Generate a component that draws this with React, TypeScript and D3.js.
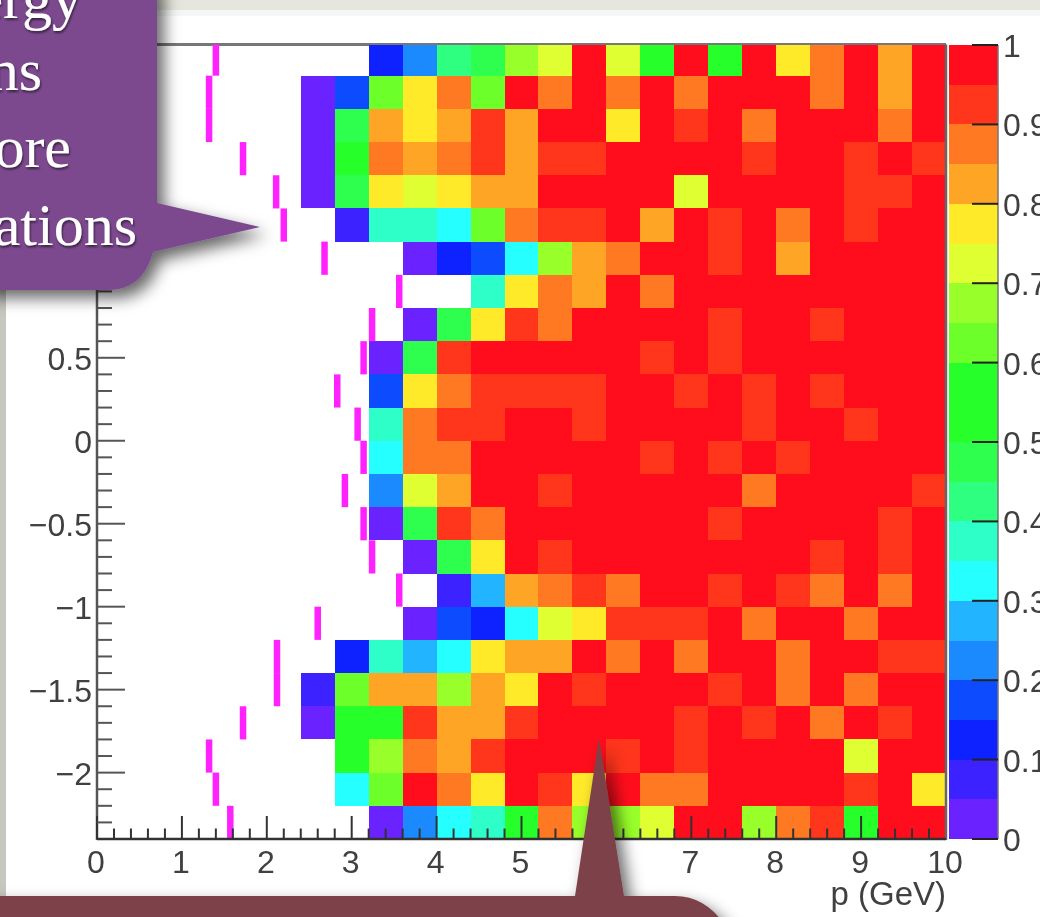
import React from "react";
import * as d3 from "d3";

// Efficiency per (eta row, momentum bin). Rows run from eta = +2.4 down to -2.4 (0.2 wide),
// each lists the momentum bins from p = 2.4 to p = 10 (0.4 wide). null = empty bin.
const row00 = [null,null,.13,.23,.43,.48,.68,.73,.98,.73,.55,.98,.55,.98,.78,.88,.98,.83,.98];
const row01 = [.03,.18,.63,.78,.88,.63,.98,.88,.98,.88,.98,.88,.98,.98,.98,.88,.98,.83,.98];
const row02 = [.03,.48,.83,.78,.83,.93,.83,.98,.98,.78,.98,.93,.98,.88,.98,.98,.98,.88,.98];
const row03 = [.03,.55,.88,.83,.88,.93,.83,.93,.93,.98,.98,.98,.98,.93,.98,.98,.93,.98,.93];
const row04 = [.03,.48,.78,.73,.78,.83,.83,.98,.98,.98,.98,.73,.98,.98,.98,.98,.93,.93,.98];
const row05 = [null,.08,.38,.38,.33,.63,.88,.93,.93,.98,.83,.98,.93,.98,.88,.98,.93,.98,.98];
const row06 = [null,null,null,.03,.13,.18,.33,.68,.83,.88,.98,.98,.93,.98,.83,.98,.98,.98,.98];
const row07 = [null,null,null,null,null,.38,.78,.88,.83,.98,.88,.98,.98,.98,.98,.98,.98,.98,.98];
const row08 = [null,null,null,.03,.48,.78,.93,.88,.98,.98,.98,.98,.93,.98,.98,.93,.98,.98,.98];
const row09 = [null,null,.03,.48,.93,.98,.98,.98,.98,.98,.93,.98,.93,.98,.98,.98,.98,.98,.98];
const row10 = [null,null,.18,.78,.88,.93,.93,.93,.93,.98,.98,.93,.98,.93,.98,.93,.98,.98,.98];
const row11 = [null,null,.38,.88,.93,.93,.98,.98,.93,.98,.98,.98,.98,.93,.98,.98,.93,.98,.98];
const row12 = [null,null,.33,.88,.88,.98,.98,.98,.98,.98,.93,.98,.93,.98,.93,.98,.98,.98,.98];
const row13 = [null,null,.23,.73,.83,.98,.98,.93,.98,.98,.98,.98,.98,.88,.98,.98,.98,.98,.93];
const row14 = [null,null,.03,.48,.93,.88,.98,.98,.98,.98,.98,.98,.93,.98,.98,.98,.98,.93,.98];
const row15 = [null,null,null,.03,.48,.78,.98,.93,.98,.98,.98,.98,.98,.98,.98,.93,.98,.93,.98];
const row16 = [null,null,null,null,.08,.28,.83,.88,.93,.88,.98,.98,.93,.98,.93,.88,.98,.88,.98];
const row17 = [null,null,null,.03,.18,.13,.33,.73,.78,.93,.93,.93,.98,.88,.98,.98,.88,.98,.98];
const row18 = [null,.13,.38,.28,.33,.78,.83,.83,.98,.88,.98,.88,.98,.98,.88,.98,.98,.93,.93];
const row19 = [.08,.63,.83,.83,.68,.83,.78,.98,.93,.98,.98,.98,.93,.98,.88,.98,.88,.98,.98];
const row20 = [.03,.55,.55,.93,.83,.83,.93,.98,.98,.98,.98,.93,.98,.93,.98,.88,.98,.93,.98];
const row21 = [null,.55,.68,.88,.83,.93,.98,.98,.98,.93,.98,.93,.98,.98,.98,.98,.73,.98,.98];
const row22 = [null,.33,.63,.98,.88,.78,.98,.93,.78,.98,.88,.88,.98,.98,.98,.98,.93,.98,.78];
const row23 = [null,null,.03,.23,.33,.38,.55,.88,.68,.68,.73,.98,.98,.68,.88,.93,.55,.98,.98];
const efficiencyRows = [row00,row01,row02,row03,row04,row05,row06,row07,row08,row09,row10,row11,row12,row13,row14,row15,row16,row17,row18,row19,row20,row21,row22,row23];

// Magenta threshold momentum per eta row (GeV), same row order.
const thresholdP = [1.40,1.32,1.32,1.72,2.11,2.20,2.68,3.56,3.24,3.14,2.83,3.07,3.14,2.92,3.14,3.24,3.56,2.60,2.12,2.12,1.72,1.32,1.40,1.57];

const palette = ["#6a22ff","#3a22ff","#0a22ff","#0f4cff","#1a8aff","#22b4ff","#26ffff","#2dffc8","#2dff80","#2dff50","#26ff2c","#26ff2c","#6cff2c","#98ff2c","#e0ff30","#ffea2c","#ffa526","#ff7820","#ff341c","#ff0f1c"];

const xTickLabels = [0,1,2,3,4,5,6,7,8,9,10];
const yTickLabels = [-2,-1.5,-1,-0.5,0,0.5];
const zTickLabels = [0,0.1,0.2,0.3,0.4,0.5,0.6,0.7,0.8,0.9,1];
const purpleLines = [["ergy",82,18],["ns",42,90],["ore",71,167],["ations",137,245]] as const;

const pMin = 2.4, pBin = 0.4, etaBin = 0.2, etaTop = 2.4;
const INK = "#404040";
const FONT = "'Liberation Sans', Arial, sans-serif";
const LABEL = 32;

export default function App() {
  const x = d3.scaleLinear().domain([0, 10]).range([97, 946]);
  const y = d3.scaleLinear().domain([2.4, -2.4]).range([42.5, 839]);
  const z = d3.scaleLinear().domain([0, 1]).range([839, 45]);
  const colour = d3.scaleQuantize<string>().domain([0, 1]).range(palette);
  const minorP = d3.range(0, 50).map((i) => i * 0.2);
  const minorEta = d3.range(0, 47).map((i) => -2.3 + i * 0.1);
  const plotTop = 44.5;
  const clipY = (v: number) => Math.max(v, plotTop);

  return (
    <svg width={1040} height={917} viewBox="0 0 1040 917"
      style={{ position: "absolute", left: 0, top: 0, display: "block", background: "#fff" }}>
      <defs>
        <filter id="soft" x="-2%" y="-2%" width="104%" height="104%">
          <feGaussianBlur stdDeviation="0.7" />
        </filter>
        <filter id="drop" x="-30%" y="-30%" width="170%" height="170%">
          <feDropShadow dx="7" dy="8" stdDeviation="8" floodColor="#000" floodOpacity="0.6" />
        </filter>
        <filter id="txt" x="-10%" y="-10%" width="120%" height="130%">
          <feDropShadow dx="1" dy="2" stdDeviation="1.2" floodColor="#000" floodOpacity="0.55" />
        </filter>
      </defs>

      <rect x={0} y={0} width={1040} height={10} fill="#e6e6de" />
      <rect x={0} y={10} width={1040} height={6} fill="#f3f7f5" />
      <rect x={0} y={10} width={6} height={907} fill="#c6c8c0" />

      <g filter="url(#soft)">
        <line x1={x(0)} x2={x(10)} y1={plotTop} y2={plotTop} stroke="#777" strokeWidth={3} />
        <g shapeRendering="crispEdges">
          {efficiencyRows.flatMap((row, r) =>
            row.map((v, c) => {
              if (v === null) return null;
              const p0 = pMin + c * pBin;
              const x0 = Math.round(x(p0));
              const x1 = Math.round(x(p0 + pBin));
              const top = Math.round(clipY(y(etaTop - r * etaBin)));
              const bottom = Math.round(y(etaTop - (r + 1) * etaBin));
              return <rect key={`${r}-${c}`} x={x0} y={top} width={x1 - x0} height={bottom - top} fill={colour(v)} />;
            })
          )}
        </g>
        {thresholdP.map((p, r) => (
          <line key={r} x1={x(p)} x2={x(p)} y1={clipY(y(etaTop - r * etaBin))} y2={y(etaTop - (r + 1) * etaBin)}
            stroke="#ff22ff" strokeWidth={6.5} />
        ))}

        <line x1={x(0)} x2={x(0)} y1={plotTop} y2={840} stroke="#555" strokeWidth={2.5} />
        <line x1={x(10)} x2={x(10)} y1={plotTop} y2={840} stroke="#666" strokeWidth={2.5} />
        <line x1={x(0)} x2={x(10)} y1={839} y2={839} stroke="#333" strokeWidth={2.5} />

        {minorP.map((p) => {
          const major = Math.abs(p - Math.round(p)) < 1e-6;
          return <line key={p} x1={x(p)} x2={x(p)} y1={839} y2={major ? 816 : 828.5} stroke="#333" strokeWidth={2} />;
        })}
        {minorEta.map((e) => {
          const major = Math.abs(e * 2 - Math.round(e * 2)) < 1e-6;
          return <line key={e} x1={97} x2={major ? 125 : 112} y1={y(e)} y2={y(e)} stroke="#555" strokeWidth={2} />;
        })}

        {xTickLabels.map((t) => (
          <text key={t} x={x(t) - 1} y={873} textAnchor="middle" fontFamily={FONT} fontSize={LABEL} fill={INK}>{t}</text>
        ))}
        {yTickLabels.map((t) => (
          <text key={t} x={92} y={y(t) + 12} textAnchor="end" fontFamily={FONT} fontSize={LABEL} fill={INK}>
            {t < 0 ? "\u2212" + Math.abs(t) : t}
          </text>
        ))}
        <text x={946} y={905} textAnchor="end" fontFamily={FONT} fontSize={33} fill={INK}>p (GeV)</text>

        <g shapeRendering="crispEdges">
          {palette.map((c, i) => {
            const t = Math.round(z((i + 1) * 0.05));
            const b = Math.round(z(i * 0.05));
            return <rect key={i} x={949} y={t} width={49} height={b - t} fill={c} />;
          })}
        </g>
        <line x1={998} x2={998} y1={45} y2={839} stroke="#777" strokeWidth={1.5} />
        {zTickLabels.map((t) => (
          <g key={t}>
            <line x1={972} x2={998} y1={z(t)} y2={z(t)} stroke="#222" strokeWidth={2} />
            <text x={1003} y={z(t) + 12} fontFamily={FONT} fontSize={LABEL} fill={INK}>{t}</text>
          </g>
        ))}
      </g>

      <g filter="url(#drop)">
        <path d="M-20,-20 L157,-20 L157,203 L260,227 L153,252 Q143,290 108,290 L-20,290 Z" fill="#7b4a8e" />
      </g>
      <g filter="url(#txt)">
        {purpleLines.map(([s, tx, ty]) => (
          <text key={s} x={tx} y={ty} textAnchor="end" fontFamily="'Liberation Serif', serif" fontSize={60} fill="#fff">{s}</text>
        ))}
      </g>

      <g filter="url(#drop)">
        <path d="M-20,896 L575,896 L599,738 L624,896 L675,896 Q705,896 725,925 L-20,925 Z" fill="#7d4349" />
      </g>
    </svg>
  );
}
